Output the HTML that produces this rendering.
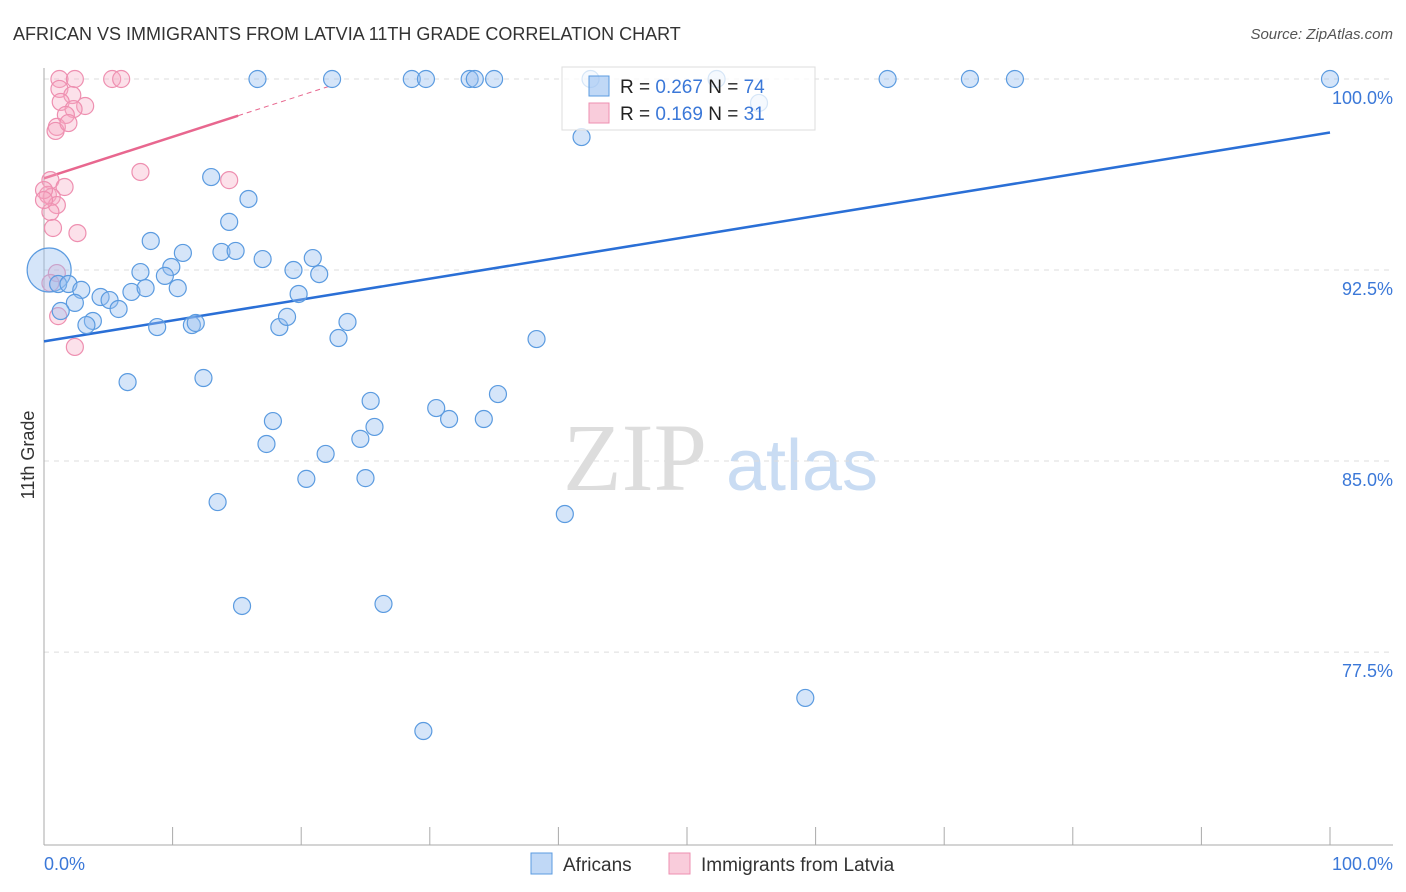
<!DOCTYPE html>
<html><head><meta charset="utf-8"><style>
body{margin:0;background:#fff;font-family:"Liberation Sans",sans-serif}
svg{display:block}
</style></head><body>
<svg id="c" width="1406" height="892" xmlns="http://www.w3.org/2000/svg">
<text x="13" y="40" font-size="18" fill="#333">AFRICAN VS IMMIGRANTS FROM LATVIA 11TH GRADE CORRELATION CHART</text>
<text x="1393" y="39" font-size="15" fill="#555" font-style="italic" text-anchor="end">Source: ZipAtlas.com</text>
<g>
<text x="635" y="490" font-size="96" font-family="Liberation Serif,serif" fill="#ddd" text-anchor="middle">ZIP</text>
<text x="802" y="490" font-size="72" fill="#c9dcf3" text-anchor="middle">atlas</text>
</g>
<g id="grid"></g>
<g id="axes"></g>
<g id="lines"></g>
<g id="pts"></g>
<text transform="translate(34,455) rotate(-90)" font-size="18" fill="#333" text-anchor="middle">11th Grade</text>
<text x="44" y="870" font-size="18" fill="#3b78d8">0.0%</text>
<text x="1393" y="870" font-size="18" fill="#3b78d8" text-anchor="end">100.0%</text>
<g>
<rect x="562" y="67" width="253" height="63" fill="rgba(255,255,255,0.75)" stroke="#ddd"/>
<rect x="589" y="76" width="20" height="20" fill="rgba(150,190,240,0.6)" stroke="#5b9be0"/>
<rect x="589" y="103" width="20" height="20" fill="rgba(245,170,195,0.6)" stroke="#ee8fb0"/>
<text x="620" y="93" font-size="19" fill="#222">R = <tspan fill="#3b78d8">0.267</tspan>   N = <tspan fill="#3b78d8">74</tspan></text>
<text x="620" y="120" font-size="19" fill="#222">R = <tspan fill="#3b78d8"> 0.169</tspan>   N = <tspan fill="#3b78d8"> 31</tspan></text>
</g>
<g>
<rect x="531" y="853" width="21" height="21" fill="rgba(150,190,240,0.6)" stroke="#5b9be0"/>
<text x="563" y="871" font-size="19" fill="#333">Africans</text>
<rect x="669" y="853" width="21" height="21" fill="rgba(245,170,195,0.6)" stroke="#ee8fb0"/>
<text x="701" y="871" font-size="19" fill="#333">Immigrants from Latvia</text>
</g>
</svg>
<script>
const yTicks=[100,92.5,85,77.5];
const yTickLabels=["100.0%","92.5%","85.0%","77.5%"];
const xTicks=[0,10,20,30,40,50,60,70,80,90,100];
const blueX=[16.6,22.4,28.6,29.7,33.1,33.5,35.0,42.5,52.3,65.6,72.0,75.5,100,55.6,41.8,13.0,15.9,14.4,8.3,10.8,13.8,14.9,17.0,20.9,7.5,9.9,9.4,19.4,21.4,1.1,1.9,2.9,4.4,5.1,5.8,2.4,1.3,6.8,7.9,10.4,19.8,3.8,3.3,8.8,11.5,11.8,18.3,18.9,23.6,22.9,38.3,6.5,12.4,35.3,25.4,30.5,31.5,34.2,17.8,25.7,24.6,17.3,21.9,20.4,25.0,13.5,40.5,15.4,26.4,59.2,29.5];
const blueY=[100,100,100,100,100,100,100,100,100,100,100,100,100,99.06,97.72,96.15,95.29,94.39,93.64,93.17,93.21,93.25,92.93,92.97,92.42,92.62,92.27,92.5,92.34,91.95,91.95,91.72,91.44,91.32,90.97,91.21,90.89,91.64,91.79,91.79,91.56,90.5,90.34,90.26,90.34,90.42,90.26,90.66,90.46,89.83,89.79,88.1,88.26,87.63,87.36,87.08,86.65,86.65,86.57,86.34,85.87,85.67,85.28,84.3,84.33,83.39,82.92,79.31,79.39,75.7,74.4];
const bigBlueX=[0.4];
const bigBlueY=[92.5];
const pinkX=[1.2,2.4,5.3,6.0,1.2,2.2,1.3,3.2,2.3,1.7,1.0,0.9,1.9,7.5,14.4,0.5,1.6,0.3,0.6,1.0,0.5,0.7,2.6,1.0,0.5,1.1,2.4,0,0];
const pinkY=[100,100,100,100,99.61,99.37,99.1,98.94,98.82,98.59,98.12,97.96,98.27,96.35,96.03,96.03,95.76,95.45,95.37,95.05,94.78,94.15,93.95,92.38,91.99,90.69,89.48,95.64,95.25];
const blueTrend=[89.7,97.9];
const pinkTrend=[96.1,99.75];
const pinkSolidEnd=15.1, pinkDashEnd=22.4;

const NS="http://www.w3.org/2000/svg";
const X=v=>44+v*12.86;
const Y=v=>79+(100-v)*25.47;
function mk(t,a,p){const e=document.createElementNS(NS,t);for(const k in a)e.setAttribute(k,a[k]);document.getElementById(p).appendChild(e);return e;}
yTicks.forEach((t,i)=>{
 const l=mk('line',{x1:44,x2:1393,y1:Y(t),y2:Y(t),stroke:'#ddd','stroke-dasharray':'5,5'},'grid');
 
 
 const tx=mk('text',{x:1393,y:Y(t)+25,'font-size':18,fill:'#3b78d8','text-anchor':'end'},'grid');
 tx.textContent=yTickLabels[i];
 
 
});
let a=mk('line',{x1:44,x2:44,y1:68,y2:845,stroke:'#aaa'},'axes');


a=mk('line',{x1:44,x2:1393,y1:845,y2:845,stroke:'#aaa'},'axes');


xTicks.forEach(t=>{
 const l=mk('line',{x1:X(t),x2:X(t),y1:827,y2:845,stroke:'#aaa'},'axes');
 
 
});
let ln=mk('line',{x1:X(0),y1:Y(blueTrend[0]),x2:X(100),y2:Y(blueTrend[1]),stroke:'#2a6fd6','stroke-width':2.5},'lines');


const pAt=x=>pinkTrend[0]+(pinkTrend[1]-pinkTrend[0])*x/pinkDashEnd;
ln=mk('line',{x1:X(0),y1:Y(pinkTrend[0]),x2:X(pinkSolidEnd),y2:Y(pAt(pinkSolidEnd)),stroke:'#e8678f','stroke-width':2.5},'lines');


ln=mk('line',{x1:X(pinkSolidEnd),y1:Y(pAt(pinkSolidEnd)),x2:X(pinkDashEnd),y2:Y(pinkTrend[1]),stroke:'#e8678f','stroke-width':1,'stroke-dasharray':'5,4'},'lines');


pinkX.forEach((x,i)=>{
 const c=mk('circle',{cx:X(x),cy:Y(pinkY[i]),r:8.5,fill:'rgba(245,170,195,0.35)',stroke:'#ee8fb0','stroke-width':1.2},'pts');
 
 
});
bigBlueX.forEach((x,i)=>{
 const c=mk('circle',{cx:X(x),cy:Y(bigBlueY[i]),r:22,fill:'rgba(150,190,240,0.4)',stroke:'#5b9be0','stroke-width':1.2},'pts');
 
 
});
blueX.forEach((x,i)=>{
 const c=mk('circle',{cx:X(x),cy:Y(blueY[i]),r:8.5,fill:'rgba(150,190,240,0.4)',stroke:'#5b9be0','stroke-width':1.2},'pts');
 
 
});
</script>
</body></html>
